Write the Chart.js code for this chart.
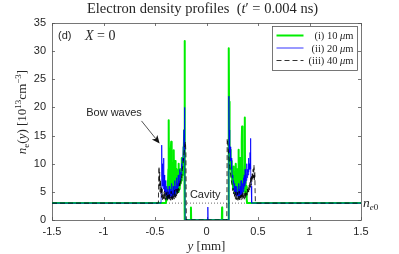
<!DOCTYPE html>
<html><head><meta charset="utf-8">
<script src="https://cdn.jsdelivr.net/npm/chart.js@4/dist/chart.umd.min.js"></script>
<style>html,body{margin:0;padding:0;background:#fff;overflow:hidden}</style>
</head><body>
<canvas id="c" width="399" height="254" style="width:399px;height:254px;display:block"></canvas>
<script>
// ---- data (x in mm, n_e in 1e13 cm^-3) ----
const xTicks = [-1.5, -1, -0.5, 0, 0.5, 1, 1.5];
const yTicks = [0, 5, 10, 15, 20, 25, 30, 35];
const seriesLabels = ['(i) 10 ', '(ii) 20 ', '(iii) 40 '];
const ne0 = 3;

const profile10um = [
[-1.5,3],[-0.395,3],[-0.39,3.5],[-0.386,5],[-0.382,4],[-0.378,7],[-0.374,5],[-0.37,9],[-0.367,17.7],[-0.364,6],
[-0.36,11],[-0.357,5.5],[-0.353,9],[-0.35,5],[-0.346,12],[-0.343,13.9],[-0.34,5],[-0.336,8],[-0.333,4.5],[-0.33,10],
[-0.326,5],[-0.322,7],[-0.318,12.4],[-0.315,4.5],[-0.311,8],[-0.307,5],[-0.303,10.5],[-0.3,4.8],[-0.296,7],[-0.292,5.2],
[-0.288,9],[-0.284,5.5],[-0.28,8],[-0.276,5],[-0.272,10],[-0.268,6],[-0.264,7.5],[-0.26,5.5],[-0.256,9],[-0.252,6.5],
[-0.248,8],[-0.244,7],[-0.24,11],[-0.236,8],[-0.232,10],[-0.228,9],[-0.224,13],[-0.22,11],[-0.217,16],[-0.214,22],
[-0.212,31.8],[-0.21,18],[-0.209,0],[-0.153,0],[-0.151,2.2],[-0.149,0],[0.149,0],[0.151,2.2],[0.153,0],[0.214,0],
[0.215,18],[0.217,30.5],[0.219,21],[0.222,14],[0.226,11],[0.23,12.5],[0.234,9],[0.238,10.5],[0.242,7.5],[0.246,9],
[0.25,6.5],[0.254,8],[0.258,5.5],[0.262,9.5],[0.266,6],[0.27,7.5],[0.274,5],[0.278,8.5],[0.282,5.5],[0.286,10],
[0.29,5],[0.294,7],[0.298,4.8],[0.302,9],[0.306,5.2],[0.31,12.5],[0.314,5],[0.318,8],[0.322,4.8],[0.326,11],
[0.33,5.5],[0.334,9],[0.338,5],[0.342,14],[0.345,16.6],[0.348,6],[0.352,10],[0.356,5.5],[0.36,8],[0.364,5],
[0.368,7],[0.372,18.2],[0.375,6],[0.378,8],[0.382,4.5],[0.386,6],[0.39,3.8],[0.394,3],[1.5,3]
];

const profile20um = [
[-1.5,3],[-0.442,3],[-0.438,5],[-0.435,13.3],[-0.432,8],[-0.429,10],[-0.426,6],[-0.423,9],[-0.42,5.5],[-0.417,11],
[-0.414,6],[-0.41,8],[-0.406,5],[-0.402,7],[-0.398,4.5],[-0.394,6.5],[-0.39,4.2],[-0.386,6],[-0.382,4],[-0.378,5.5],
[-0.374,3.8],[-0.37,5],[-0.366,4],[-0.362,6],[-0.358,3.8],[-0.354,5],[-0.35,4.2],[-0.346,5.5],[-0.342,4],[-0.338,6.5],
[-0.334,4.3],[-0.33,5.2],[-0.326,4],[-0.322,6],[-0.318,4.5],[-0.314,5.5],[-0.31,4.2],[-0.306,7],[-0.302,4.5],[-0.298,6],
[-0.294,5],[-0.29,7.5],[-0.286,5],[-0.282,6.5],[-0.278,5.5],[-0.274,8],[-0.27,6],[-0.266,7],[-0.262,6.5],[-0.258,9],
[-0.254,7],[-0.25,8.5],[-0.246,8],[-0.242,10],[-0.238,9],[-0.234,11],[-0.23,10.5],[-0.226,13],[-0.222,14],[-0.218,16],
[-0.215,18],[-0.212,20],[-0.21,12],[-0.207,0],[0.011,0],[0.013,2.3],[0.015,0],[0.215,0],[0.217,22],[0.22,16],
[0.223,14],[0.227,12],[0.231,13],[0.235,10.5],[0.239,11],[0.243,9],[0.247,9.5],[0.251,7.5],[0.255,8],[0.259,6.5],
[0.263,7],[0.267,5.5],[0.271,6.5],[0.275,5],[0.279,6],[0.283,4.5],[0.287,5.5],[0.291,4.2],[0.295,6],[0.299,4.3],
[0.303,5],[0.307,4],[0.311,6.5],[0.315,4.2],[0.319,5.5],[0.323,4],[0.327,6],[0.331,4.5],[0.335,7],[0.339,4.3],
[0.343,5.5],[0.347,4.5],[0.351,6.5],[0.355,5],[0.359,7.5],[0.363,5.5],[0.367,8],[0.371,6],[0.375,9],[0.379,6.5],
[0.383,8.5],[0.387,7],[0.391,10],[0.395,7.5],[0.399,9],[0.403,8],[0.407,11],[0.411,8.5],[0.415,10],[0.419,9],
[0.423,12],[0.427,14.5],[0.43,9],[0.434,6],[0.437,4],[0.44,3],[1.5,3]
];

const profile40um = [
[-1.5,3],[-0.467,3],[-0.464,7],[-0.461,9.5],[-0.458,6],[-0.455,8.5],[-0.451,5],[-0.447,7],[-0.443,4.5],[-0.439,6],
[-0.435,4],[-0.431,5.5],[-0.427,3.6],[-0.423,5],[-0.419,3.8],[-0.415,4.6],[-0.411,3.5],[-0.407,5.2],[-0.403,3.7],[-0.399,4.5],
[-0.395,3.5],[-0.391,4.9],[-0.387,3.8],[-0.383,4.3],[-0.379,3.5],[-0.375,5],[-0.371,3.7],[-0.367,4.4],[-0.363,3.6],[-0.359,4.8],
[-0.355,3.9],[-0.351,4.2],[-0.347,3.5],[-0.343,5.1],[-0.339,3.8],[-0.335,4.4],[-0.331,3.6],[-0.327,4.7],[-0.323,4],[-0.319,4.5],
[-0.315,3.7],[-0.311,5.3],[-0.307,4.1],[-0.303,4.6],[-0.299,4],[-0.295,5.5],[-0.291,4.3],[-0.287,5],[-0.283,4.5],[-0.279,5.8],
[-0.275,4.8],[-0.271,5.6],[-0.267,5.2],[-0.263,6.5],[-0.259,5.8],[-0.255,7],[-0.25,6.5],[-0.245,7.8],[-0.24,7.5],[-0.235,9],
[-0.23,9.5],[-0.225,10.5],[-0.22,11.5],[-0.215,12.5],[-0.21,13.2],[-0.205,13.9],[-0.2,12],[-0.198,6],[-0.196,0],[0.197,0],
[0.199,6],[0.201,14.5],[0.206,13.5],[0.211,12.5],[0.216,11.5],[0.221,10.5],[0.226,9.5],[0.231,8.5],[0.236,7.8],[0.241,7],
[0.246,6.5],[0.251,6],[0.256,5.2],[0.261,5.6],[0.265,4.6],[0.269,5.2],[0.273,4.2],[0.277,4.8],[0.281,3.8],[0.285,5],
[0.289,3.6],[0.293,4.5],[0.297,3.8],[0.301,4.9],[0.305,3.5],[0.309,4.4],[0.313,3.7],[0.317,5.1],[0.321,3.6],[0.325,4.3],
[0.329,3.9],[0.333,4.7],[0.337,3.5],[0.341,4.5],[0.345,3.8],[0.349,5],[0.353,3.6],[0.357,4.4],[0.361,3.9],[0.365,4.8],
[0.369,3.7],[0.373,4.6],[0.377,4],[0.381,5.2],[0.385,4.2],[0.389,4.8],[0.393,4.4],[0.397,5.5],[0.401,4.6],[0.405,5.8],
[0.409,5],[0.413,6.2],[0.417,5.3],[0.421,6.8],[0.425,5.8],[0.429,7.5],[0.433,6.2],[0.437,8],[0.441,6.8],[0.445,8.5],
[0.449,7],[0.453,9],[0.457,7.5],[0.461,9.8],[0.465,7],[0.469,8.5],[0.472,5],[0.475,3],[1.5,3]
];

// ---- styles ----
const INK = '#262626';
const SERIF = '"Liberation Serif","DejaVu Serif",serif';
const SANS = '"Liberation Sans",Arial,sans-serif';
const GREEN = '#00ee00', BLUE = '#0000ff', BLACK = '#000000';

const toPts = arr => arr.map(p => ({x: p[0], y: p[1]}));

function rich(ctx, segs, x, y, align) {
  let w = 0;
  segs.forEach(s => { ctx.font = s.f; s.w = ctx.measureText(s.t).width; w += s.w; });
  let cx = align === 'center' ? x - w / 2 : align === 'right' ? x - w : x;
  ctx.textAlign = 'left'; ctx.textBaseline = 'alphabetic';
  segs.forEach(s => { ctx.font = s.f; ctx.fillText(s.t, cx, y + (s.dy || 0)); cx += s.w; });
  return w;
}

const framePlugin = {
  id: 'frame',
  beforeDatasetsDraw(chart) {
    const {ctx, chartArea: a, scales: {x, y}} = chart;
    ctx.save();
    ctx.strokeStyle = '#555'; ctx.lineWidth = 0.8;
    ctx.strokeRect(Math.round(a.left) + 0.5, Math.round(a.top) + 0.5,
                   Math.round(a.right - a.left), Math.round(a.bottom - a.top));
    ctx.beginPath();
    xTicks.forEach(v => {
      const px = Math.round(x.getPixelForValue(v)) + 0.5;
      ctx.moveTo(px, a.bottom); ctx.lineTo(px, a.bottom - 3);
      ctx.moveTo(px, a.top); ctx.lineTo(px, a.top + 3);
    });
    yTicks.forEach(v => {
      const py = Math.round(y.getPixelForValue(v)) + 0.5;
      ctx.moveTo(a.left, py); ctx.lineTo(a.left + 3, py);
      ctx.moveTo(a.right, py); ctx.lineTo(a.right - 3, py);
    });
    ctx.stroke();
    ctx.restore();
  },
  afterDraw(chart) {
    const {ctx, chartArea: a, scales: {x, y}} = chart;
    ctx.save();
    ctx.fillStyle = INK;
    // title
    rich(ctx, [
      {t: 'Electron density profiles  (', f: `14.5px ${SERIF}`},
      {t: 't', f: `italic 14.5px ${SERIF}`},
      {t: '\u2032 = 0.004 ns)', f: `14.5px ${SERIF}`}
    ], 202.5, 13, 'center');
    // x-axis title
    rich(ctx, [
      {t: 'y', f: `italic 13px ${SERIF}`},
      {t: ' [mm]', f: `13px ${SERIF}`}
    ], (a.left + a.right) / 2, 250, 'center');
    // y-axis title
    ctx.save();
    ctx.translate(21, 112);
    ctx.rotate(-Math.PI / 2);
    rich(ctx, [
      {t: 'n', f: `italic 13px ${SERIF}`},
      {t: 'e', f: `9px ${SERIF}`, dy: 3},
      {t: '(', f: `13px ${SERIF}`},
      {t: 'y', f: `italic 13px ${SERIF}`},
      {t: ') [10', f: `13px ${SERIF}`},
      {t: '13', f: `9px ${SERIF}`, dy: -5},
      {t: 'cm', f: `13px ${SERIF}`},
      {t: '\u22123', f: `9px ${SERIF}`, dy: -5},
      {t: ']', f: `13px ${SERIF}`}
    ], 0, 4.5, 'center');
    ctx.restore();
    // n_e0 at right
    rich(ctx, [
      {t: 'n', f: `italic 13.5px ${SERIF}`},
      {t: 'e', f: `italic 9px ${SERIF}`, dy: 3},
      {t: '0', f: `9px ${SERIF}`, dy: 3}
    ], a.right + 2, y.getPixelForValue(ne0) + 4, 'left');
    // (d) and X = 0
    ctx.font = `11px ${SANS}`; ctx.textAlign = 'left'; ctx.textBaseline = 'middle';
    ctx.fillText('(d)', a.left + 6, a.top + 12.5);
    rich(ctx, [
      {t: 'X', f: `italic 14px ${SERIF}`},
      {t: ' = 0', f: `14px ${SERIF}`}
    ], a.left + 33, a.top + 17, 'left');
    // Bow waves + arrow
    ctx.font = `11px ${SANS}`; ctx.textAlign = 'center'; ctx.textBaseline = 'middle';
    ctx.fillText('Bow waves', x.getPixelForValue(-0.898), y.getPixelForValue(19.0));
    const sx = x.getPixelForValue(-0.631), sy = y.getPixelForValue(17.6);
    const tx = x.getPixelForValue(-0.455), ty = y.getPixelForValue(13.6);
    const ang = Math.atan2(ty - sy, tx - sx);
    ctx.strokeStyle = INK; ctx.lineWidth = 0.8;
    ctx.beginPath(); ctx.moveTo(sx, sy);
    ctx.lineTo(tx - 6 * Math.cos(ang), ty - 6 * Math.sin(ang)); ctx.stroke();
    ctx.beginPath();
    ctx.moveTo(tx, ty);
    ctx.lineTo(tx - 8 * Math.cos(ang) + 3.5 * Math.sin(ang), ty - 8 * Math.sin(ang) - 3.5 * Math.cos(ang));
    ctx.lineTo(tx - 6 * Math.cos(ang), ty - 6 * Math.sin(ang));
    ctx.lineTo(tx - 8 * Math.cos(ang) - 3.5 * Math.sin(ang), ty - 8 * Math.sin(ang) + 3.5 * Math.cos(ang));
    ctx.closePath(); ctx.fillStyle = '#111'; ctx.fill();
    // Cavity
    ctx.fillStyle = INK;
    ctx.font = `11px ${SANS}`; ctx.textAlign = 'center'; ctx.textBaseline = 'middle';
    ctx.fillText('Cavity', x.getPixelForValue(-0.013), y.getPixelForValue(4.45));
    // legend
    const bw = 85, bh = 44;
    const bx = Math.round(a.right - 4 - bw) + 0.5, by = Math.round(a.top + 3) + 0.5;
    ctx.fillStyle = '#fff'; ctx.fillRect(bx, by, bw, bh);
    ctx.strokeStyle = '#555'; ctx.lineWidth = 0.8; ctx.strokeRect(bx, by, bw, bh);
    const ds = chart.data.datasets;
    const order = [2, 1, 0];
    order.forEach((di, i) => {
      const d = ds[di];
      const ly = by + 9 + i * 12.5;
      ctx.save();
      ctx.strokeStyle = d.borderColor; ctx.lineWidth = d.borderWidth;
      ctx.setLineDash(d.borderDash || []);
      ctx.beginPath(); ctx.moveTo(bx + 4, ly); ctx.lineTo(bx + 31, ly); ctx.stroke();
      ctx.restore();
      ctx.fillStyle = INK;
      rich(ctx, [
        {t: seriesLabels[i], f: `10.5px ${SERIF}`},
        {t: '\u03bc', f: `italic 10.5px ${SERIF}`},
        {t: 'm', f: `10.5px ${SERIF}`}
      ], bx + bw - 4, ly + 3.5, 'right');
    });
    ctx.restore();
  }
};

new Chart(document.getElementById('c'), {
  type: 'scatter',
  data: {
    datasets: [
      {label: seriesLabels[2], data: toPts(profile40um), showLine: true, borderColor: BLACK,
       borderWidth: 0.8, borderDash: [5, 3], pointRadius: 0, borderJoinStyle: 'round'},
      {label: seriesLabels[1], data: toPts(profile20um), showLine: true, borderColor: BLUE,
       borderWidth: 0.8, pointRadius: 0, borderJoinStyle: 'round'},
      {label: seriesLabels[0], data: toPts(profile10um), showLine: true, borderColor: GREEN,
       borderWidth: 2, pointRadius: 0, borderJoinStyle: 'round'},
      {label: 'ne0', data: [{x: xTicks[0], y: ne0}, {x: xTicks[xTicks.length - 1], y: ne0}],
       showLine: true, borderColor: '#444', borderWidth: 0.8, borderDash: [1, 2], pointRadius: 0}
    ]
  },
  options: {
    responsive: false, animation: false, events: [],
    layout: {padding: {top: 23, right: 38, left: 0, bottom: 0}},
    plugins: {legend: {display: false}, title: {display: false}, tooltip: {enabled: false}},
    scales: {
      x: {
        type: 'linear', min: -1.5, max: 1.5,
        afterBuildTicks: s => { s.ticks = xTicks.map(v => ({value: v})); },
        afterFit: s => { s.height = 34; },
        grid: {display: false, drawTicks: false}, border: {display: false},
        ticks: {color: INK, font: {family: SANS, size: 11}, padding: 5, maxRotation: 0,
                callback: v => String(v)}
      },
      y: {
        type: 'linear', min: 0, max: 35,
        afterBuildTicks: s => { s.ticks = yTicks.map(v => ({value: v})); },
        afterFit: s => { s.width = 52; },
        grid: {display: false, drawTicks: false}, border: {display: false},
        ticks: {color: INK, font: {family: SANS, size: 11}, padding: 6,
                callback: v => String(v)}
      }
    }
  },
  plugins: [framePlugin]
});
</script>
</body></html>
